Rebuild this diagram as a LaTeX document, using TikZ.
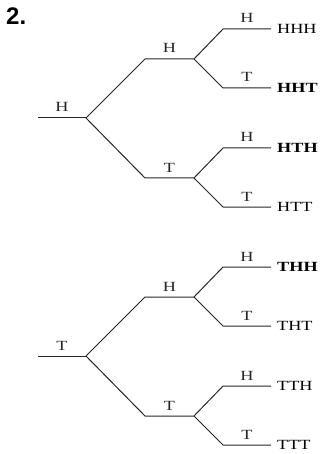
\documentclass[tikz,border=0pt]{standalone}
\usepackage{graphicx}
\usepackage{fontspec}
\setmainfont{Liberation Serif}
\newfontfamily\numfont{Liberation Sans}
\usepackage{tikz}
\usetikzlibrary{positioning}
\newcommand{\wtext}[1]{\scalebox{1.3}[1]{#1}}

\begin{document}
\begin{tikzpicture}[
  x=1pt, y=-1pt,
  font=\fontsize{14}{16}\selectfont,
  edge/.style={line width=1pt, black!85},
  lbl/.style={anchor=base, inner sep=0pt, yshift=6pt},
  leaf/.style={anchor=base west, inner sep=0pt, xshift=6pt, yshift=-4.6pt},
  num/.style={anchor=base west, inner sep=0pt, font=\numfont\bfseries\fontsize{24}{26}\selectfont}
]
  \useasboundingbox (0,0) rectangle (322,454);
  \node[num] (qnum) at (6,25) {2.};

  % First toss H (top tree)
  \coordinate (hs) at (38,118);
  \coordinate (hf) at (86,118);
  \coordinate (hh0) at (145,59);  \coordinate (hh1) at (194,59);
  \coordinate (ht0) at (145,178); \coordinate (ht1) at (194,178);
  \coordinate (hhh0) at (223,29);  \coordinate (hhh1) at (271,29);
  \coordinate (hht0) at (223,88);  \coordinate (hht1) at (271,88);
  \coordinate (hth0) at (223,148); \coordinate (hth1) at (271,148);
  \coordinate (htt0) at (223,207); \coordinate (htt1) at (271,207);

  \draw[edge] (hs) -- node[lbl] (lh) {\wtext{H}} (hf);
  \draw[edge] (hf) -- (hh0) -- node[lbl] (lhh) {\wtext{H}} (hh1);
  \draw[edge] (hf) -- (ht0) -- node[lbl] (lht) {\wtext{T}} (ht1);
  \draw[edge] (hh1) -- (hhh0) -- node[lbl] (lhhh) {\wtext{H}} (hhh1);
  \draw[edge] (hh1) -- (hht0) -- node[lbl] (lhht) {\wtext{T}} (hht1);
  \draw[edge] (ht1) -- (hth0) -- node[lbl] (lhth) {\wtext{H}} (hth1);
  \draw[edge] (ht1) -- (htt0) -- node[lbl] (lhtt) {\wtext{T}} (htt1);

  \node[leaf] (HHH) at (hhh1) {\wtext{HHH}};
  \node[leaf] (HHT) at (hht1) {\wtext{\textbf{HHT}}};
  \node[leaf] (HTH) at (hth1) {\wtext{\textbf{HTH}}};
  \node[leaf] (HTT) at (htt1) {\wtext{HTT}};

  % First toss T (bottom tree)
  \coordinate (ts) at (38,356);
  \coordinate (tf) at (86,356);
  \coordinate (th0) at (145,297); \coordinate (th1) at (194,297);
  \coordinate (tt0) at (145,416); \coordinate (tt1) at (194,416);
  \coordinate (thh0) at (223,267); \coordinate (thh1) at (271,267);
  \coordinate (tht0) at (223,326); \coordinate (tht1) at (271,326);
  \coordinate (tth0) at (223,386); \coordinate (tth1) at (271,386);
  \coordinate (ttt0) at (223,445); \coordinate (ttt1) at (271,445);

  \draw[edge] (ts) -- node[lbl] (lt) {\wtext{T}} (tf);
  \draw[edge] (tf) -- (th0) -- node[lbl] (lth) {\wtext{H}} (th1);
  \draw[edge] (tf) -- (tt0) -- node[lbl] (ltt) {\wtext{T}} (tt1);
  \draw[edge] (th1) -- (thh0) -- node[lbl] (lthh) {\wtext{H}} (thh1);
  \draw[edge] (th1) -- (tht0) -- node[lbl] (ltht) {\wtext{T}} (tht1);
  \draw[edge] (tt1) -- (tth0) -- node[lbl] (ltth) {\wtext{H}} (tth1);
  \draw[edge] (tt1) -- (ttt0) -- node[lbl] (lttt) {\wtext{T}} (ttt1);

  \node[leaf] (THH) at (thh1) {\wtext{\textbf{THH}}};
  \node[leaf] (THT) at (tht1) {\wtext{THT}};
  \node[leaf] (TTH) at (tth1) {\wtext{TTH}};
  \node[leaf] (TTT) at (ttt1) {\wtext{TTT}};
\end{tikzpicture}
\end{document}
